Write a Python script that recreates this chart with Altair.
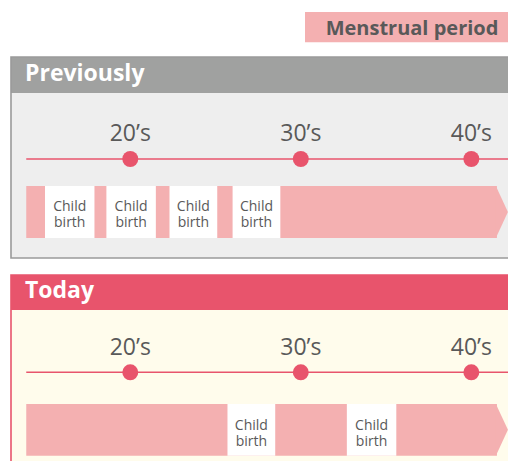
import altair as alt
import pandas as pd

# ---- data (ages) ----
decades = [20, 30, 40]
decade_labels = ["20\u2019s", "30\u2019s", "40\u2019s"]

period_start = 13.9      # menarche
period_end = 41.5        # start of the arrow head
line_start = 13.9
line_end = 42.4

prev_birth_start = [15.0, 18.6, 22.3, 26.0]
prev_birth_end = [17.9, 21.5, 25.1, 28.8]

today_birth_start = [25.7, 32.7]
today_birth_end = [28.5, 35.6]

birth_line1 = "Child"
birth_line2 = "birth"
legend_label = "Menstrual period"
panel_titles = ["Previously", "Today"]

# ---- styles ----
PINK = "#f4b0b1"
RED = "#e8546c"
GREY_HEAD = "#a0a1a0"
GREY_BODY = "#eeeeee"
GREY_BORDER = "#9a9a9a"
CREAM = "#fffcec"
TXT = "#595959"
FONT = "Open Sans"

W, H = 500, 453
XSCALE = alt.Scale(domain=[12.83, 42.15], nice=False, zero=False)


def X(field):
    return alt.X(field, type="quantitative", scale=XSCALE, axis=None)


def X2(field):
    return alt.X2(field)


one = alt.Data(values=[{}])


def box(x, x2, y, y2, **mark):
    return alt.Chart(one).mark_rect(**mark).encode(
        x=alt.value(x), x2=alt.value(x2), y=alt.value(y), y2=alt.value(y2)
    )


def panel(title, top, head_bottom, bottom, body, head, border, line_y, label_y,
          bar_top, bar_bottom, text_y, b_start, b_end):
    layers = []
    layers.append(box(3, 530, top, bottom, fill=body, strokeWidth=0))
    layers.append(box(3, 530, top, head_bottom, fill=head, strokeWidth=0))
    layers.append(box(3, 530, top, bottom, fillOpacity=0, stroke=border, strokeWidth=1.6))
    layers.append(
        alt.Chart(pd.DataFrame({"t": [title]})).mark_text(
            font=FONT, fontSize=23, fontWeight="bold", color="white",
            align="left", baseline="alphabetic"
        ).encode(x=alt.value(17), y=alt.value(head_bottom - 12), text="t:N")
    )
    # timeline
    layers.append(
        alt.Chart(pd.DataFrame({"a": [line_start], "b": [line_end]})).mark_rule(
            color=RED, strokeWidth=1.6
        ).encode(x=X("a"), x2=X2("b"), y=alt.value(line_y))
    )
    dec = pd.DataFrame({"age": decades, "label": decade_labels})
    layers.append(
        alt.Chart(dec).mark_circle(size=255, color=RED, opacity=1).encode(
            x=X("age"), y=alt.value(line_y)
        )
    )
    layers.append(
        alt.Chart(dec).mark_text(
            font=FONT, fontSize=23, color=TXT, align="center", baseline="alphabetic"
        ).encode(x=X("age"), y=alt.value(label_y), text="label:N")
    )
    # menstrual period bar with arrow head
    bar = pd.DataFrame({"a": [period_start], "b": [period_end]})
    layers.append(
        alt.Chart(bar).mark_rect(color=PINK).encode(
            x=X("a"), x2=X2("b"), y=alt.value(bar_top), y2=alt.value(bar_bottom)
        )
    )
    h = bar_bottom - bar_top
    half = h / 2.0
    tip = 11.0 / half
    layers.append(
        alt.Chart(bar).mark_point(
            shape=f"M -0.04 -1 L {tip:.3f} 0 L -0.04 1 Z",
            filled=True, fill=PINK, opacity=1, strokeWidth=0,
        ).encode(x=X("b"), y=alt.value(bar_top + half), size=alt.value(h * h))
    )
    births = pd.DataFrame({"s": b_start, "e": b_end})
    births["m"] = (births["s"] + births["e"]) / 2
    births["t1"] = birth_line1
    births["t2"] = birth_line2
    layers.append(
        alt.Chart(births).mark_rect(color="white").encode(
            x=X("s"), x2=X2("e"), y=alt.value(bar_top), y2=alt.value(bar_bottom)
        )
    )
    for col, dy in (("t1", 0), ("t2", 16)):
        layers.append(
            alt.Chart(births).mark_text(
                font=FONT, fontSize=14, color=TXT, align="center",
                baseline="alphabetic"
            ).encode(x=X("m"), y=alt.value(text_y + dy), text=f"{col}:N")
        )
    return layers


layers = []
# legend
layers.append(box(297, 520, 4, 34.3, fill=PINK, strokeWidth=0))
layers.append(
    alt.Chart(pd.DataFrame({"t": [legend_label]})).mark_text(
        font=FONT, fontSize=20, fontWeight="bold", color=TXT,
        align="center", baseline="alphabetic"
    ).encode(x=alt.value(404), y=alt.value(26.5), text="t:N")
)

layers += panel(panel_titles[0], 49, 85, 250, GREY_BODY, GREY_HEAD, GREY_BORDER,
                151, 133.3, 178, 230, 202.7, prev_birth_start, prev_birth_end)
layers += panel(panel_titles[1], 267, 302, 480, CREAM, RED, RED,
                364.3, 347, 396, 447.7, 422, today_birth_start, today_birth_end)

chart = alt.layer(*layers).properties(
    width=W, height=H, padding=0, autosize="none", background="white"
).configure_view(stroke=None)

chart.save("out.html", embed_options={"renderer": "svg", "actions": False})
